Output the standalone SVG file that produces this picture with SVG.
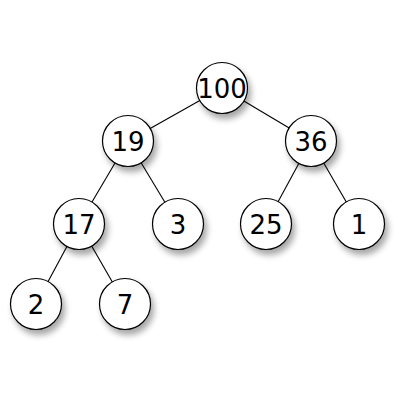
<svg xmlns="http://www.w3.org/2000/svg" width="400" height="400" viewBox="0 0 400 400">
<defs>
<filter id="sh" x="-50%" y="-50%" width="200%" height="200%">
<feGaussianBlur in="SourceAlpha" stdDeviation="3"/>
<feOffset dx="3" dy="5" result="b"/>
<feComponentTransfer><feFuncA type="linear" slope="0.35"/></feComponentTransfer>
<feMerge><feMergeNode/><feMergeNode in="SourceGraphic"/></feMerge>
</filter>
</defs>
<style>
.n circle{fill:#fff;stroke:#000;stroke-width:1.2;filter:url(#sh)}
.n text{font-family:"DejaVu Sans",sans-serif;font-size:26px;text-anchor:middle;dominant-baseline:central;fill:#000}
.e line{stroke:#000;stroke-width:1.1}
</style>
<rect width="400" height="400" fill="#fff"/>
<g id="edges" class="e">
<line x1="222" y1="88" x2="128" y2="141"/>
<line x1="222" y1="88" x2="311" y2="141"/>
<line x1="128" y1="141" x2="79" y2="224"/>
<line x1="128" y1="141" x2="178" y2="224"/>
<line x1="311" y1="141" x2="266" y2="224"/>
<line x1="311" y1="141" x2="359" y2="224"/>
<line x1="79" y1="224" x2="36" y2="304"/>
<line x1="79" y1="224" x2="125" y2="304"/>
</g>
<g id="n100" class="n"><circle cx="222" cy="88" r="25.5"/><text x="222" y="89">100</text></g>
<g id="n19" class="n"><circle cx="128" cy="141" r="25.5"/><text x="128" y="142">19</text></g>
<g id="n36" class="n"><circle cx="311" cy="141" r="25.5"/><text x="311" y="142">36</text></g>
<g id="n17" class="n"><circle cx="79" cy="224" r="25.5"/><text x="79" y="225">17</text></g>
<g id="n3" class="n"><circle cx="178" cy="224" r="25.5"/><text x="178" y="225">3</text></g>
<g id="n25" class="n"><circle cx="266" cy="224" r="25.5"/><text x="266" y="225">25</text></g>
<g id="n1" class="n"><circle cx="359" cy="224" r="25.5"/><text x="359" y="225">1</text></g>
<g id="n2" class="n"><circle cx="36" cy="304" r="25.5"/><text x="36" y="305">2</text></g>
<g id="n7" class="n"><circle cx="125" cy="304" r="25.5"/><text x="125" y="305">7</text></g>
</svg>
